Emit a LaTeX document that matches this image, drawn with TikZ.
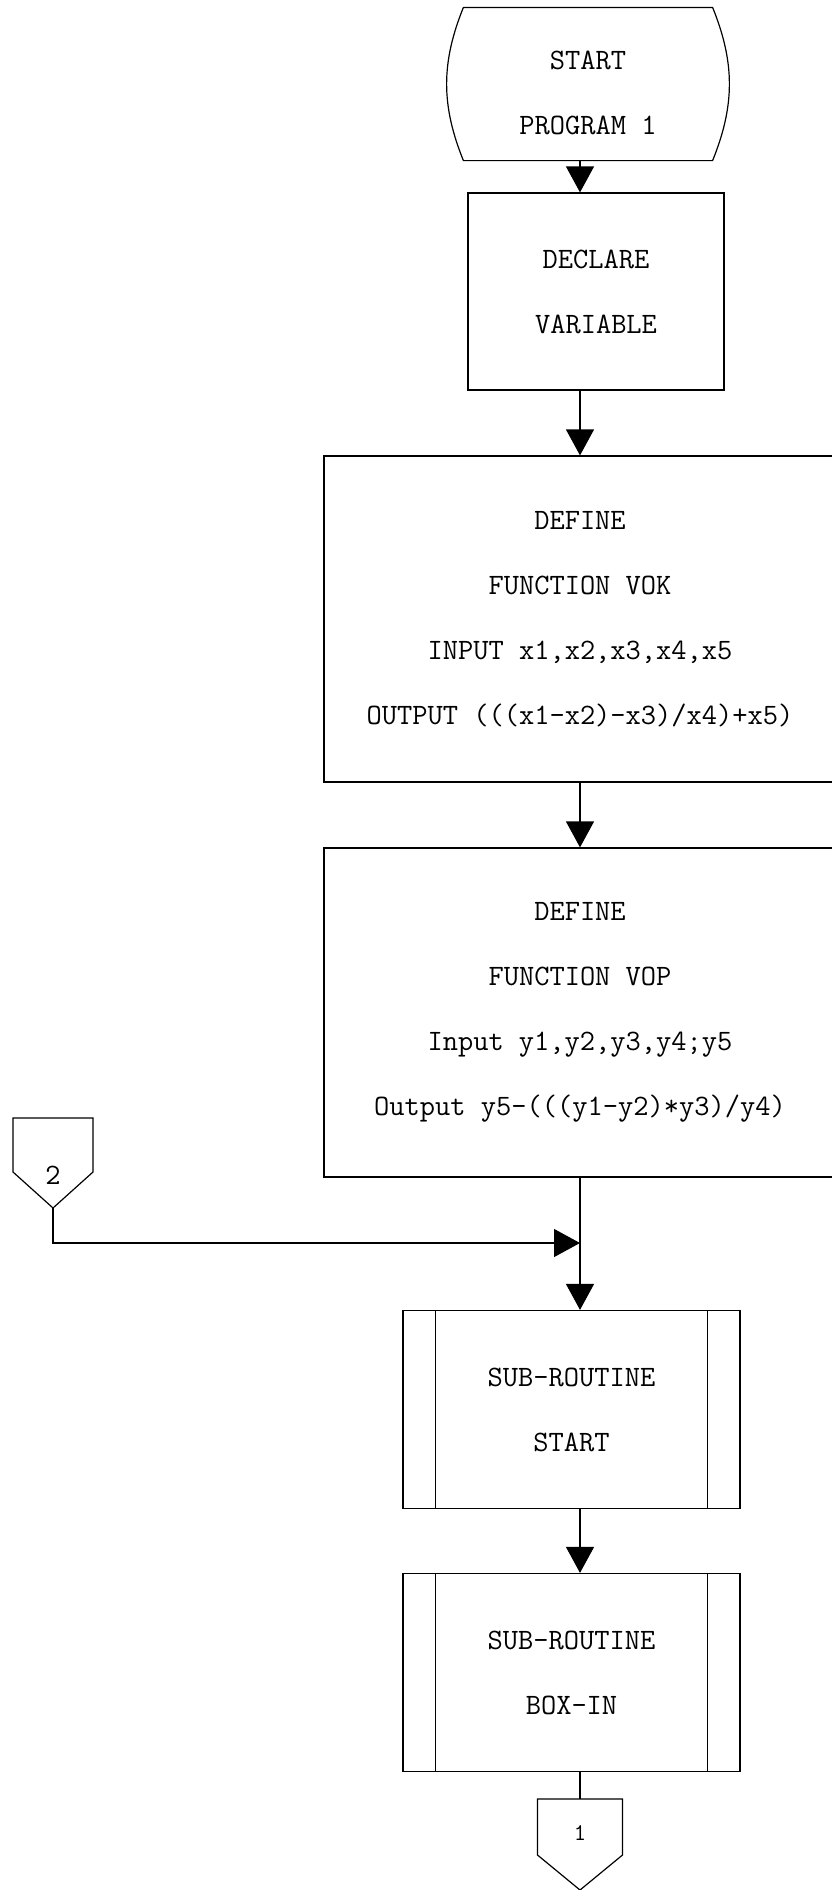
\documentclass[tikz,border=0pt]{standalone}
\usepackage{tikz}
\usetikzlibrary{arrows.meta}
\newcommand\subsides[1]{\draw ([xshift=33pt]#1.north west) -- ([xshift=33pt]#1.south west)
  ([xshift=-33pt]#1.north east) -- ([xshift=-33pt]#1.south east);}
\begin{document}
\begin{tikzpicture}[x=1pt,y=-1pt,line width=1.2pt,
  every node/.style={font=\ttfamily\fontsize{29.6pt}{65pt}\selectfont,align=center,inner sep=0pt},
  termnode/.style={minimum width=248pt,minimum height=152pt},
  procbox/.style={draw,rectangle},
  subbox/.style={draw,rectangle,minimum width=337pt,minimum height=198pt},
  flow/.style={-{Triangle[length=26pt,width=28pt]}}]
\useasboundingbox (0,0) rectangle (831,1890);
\coordinate (spine) at (580,0);
\node[termnode] (start) at (588,84) {\rule{0pt}{37pt}START\\PROGRAM 1};
\draw (start.north west) -- (start.north east) to[bend left=22] (start.south east)
  -- (start.south west) to[bend left=22] (start.north west);
\node[procbox,minimum width=256pt,minimum height=197pt] (decl) at (596,291.5) {DECLARE\\VARIABLE};
\node[procbox,minimum width=512pt,minimum height=326pt] (vok) at (580,619)
  {DEFINE\\FUNCTION VOK\\INPUT x1,x2,x3,x4,x5\\OUTPUT (((x1-x2)-x3)/x4)+x5)};
\node[procbox,minimum width=512pt,minimum height=329pt] (vop) at (580,1012.5)
  {DEFINE\\FUNCTION VOP\\Input y1,y2,y3,y4;y5\\Output y5-(((y1-y2)*y3)/y4)};
\node[subbox] (sub1) at (571.5,1409.5) {SUB-ROUTINE\\START};
\subsides{sub1}
\node[subbox] (sub2) at (571.5,1672.5) {SUB-ROUTINE\\BOX-IN};
\subsides{sub2}
\node (c2) at (53,1175) {2};
\draw (c2.center) ++(-40,-57) -- ++(80,0) -- ++(0,54) -- ++(-40,36) -- ++(-40,-36) -- cycle;
\coordinate (c2tip) at ([yshift=-33pt]c2.center);
\node[font=\ttfamily\fontsize{24pt}{24pt}\selectfont] (c1) at (580,1833) {1};
\draw (c1.center) ++(-42.5,-34) -- ++(85,0) -- ++(0,56) -- ++(-42.5,35) -- ++(-42.5,-35) -- cycle;
\coordinate (c1top) at ([yshift=34pt]c1.center);
\coordinate (merge) at (580,1243);
\draw[flow] (start.south -| spine) -- (decl.north -| spine);
\draw[flow] (decl.south -| spine) -- (vok.north -| spine);
\draw[flow] (vok.south -| spine) -- (vop.north -| spine);
\draw[flow] (vop.south -| spine) -- (sub1.north -| spine);
\draw[flow] (c2tip) |- (merge);
\draw[flow] (sub1.south -| spine) -- (sub2.north -| spine);
\draw (sub2.south -| spine) -- (c1top);
\end{tikzpicture}
\end{document}
